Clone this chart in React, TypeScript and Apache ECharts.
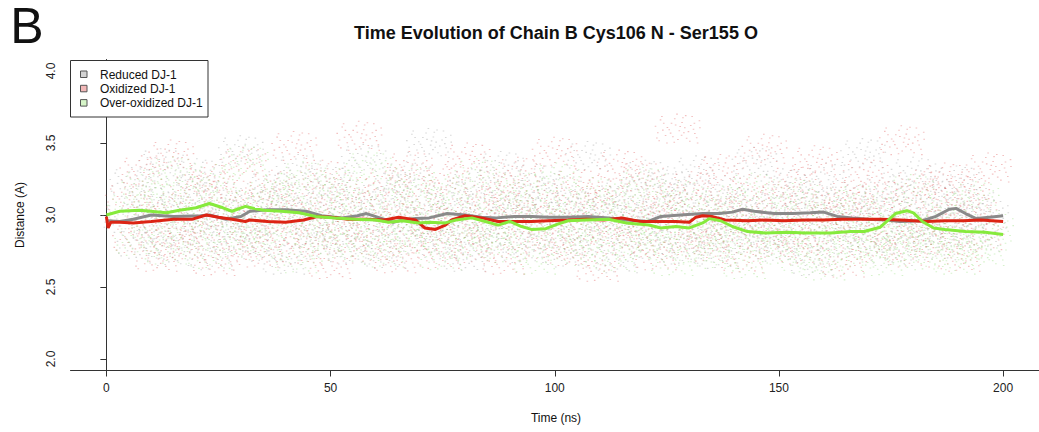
import React, { useEffect, useRef } from "react";
import * as echarts from "echarts";

const seriesNames = ["Reduced DJ-1", "Oxidized DJ-1", "Over-oxidized DJ-1"];
const xTicks = [0, 50, 100, 150, 200];
const yTicks = [2, 2.5, 3, 3.5, 4];

// running-average lines: [time (ns), distance (A)]
const reducedLine = [
  [0, 2.96], [3, 2.955], [6, 2.97], [10, 3.0], [15, 2.99], [21, 2.995], [23, 3.0], [26.7, 2.97], [30, 2.99],
  [32, 3.026], [36, 3.037], [40, 3.037], [44.5, 3.026], [48, 2.995], [52.5, 2.98], [56, 2.995], [58, 3.01],
  [61, 2.98], [64, 2.95], [66, 2.965], [69, 2.975], [72, 2.98], [76, 3.01], [80, 3.0], [83.7, 2.985], [87, 2.98],
  [91, 2.99], [95, 2.99], [98.6, 2.985], [103, 2.985], [107.4, 2.99], [112, 2.98], [116, 2.965], [120.8, 2.955],
  [123.7, 2.99], [128, 3.0], [133, 3.01], [136.7, 3.01], [139.6, 3.02], [141.9, 3.04], [144.5, 3.026], [149, 3.01],
  [153, 3.01], [157, 3.015], [160, 3.02], [163, 2.99], [166.3, 2.98], [170, 2.97], [174, 2.965], [177, 2.955],
  [182, 2.96], [185, 2.99], [188, 3.04], [189.5, 3.046], [191.6, 3.01], [194, 2.975], [197, 2.985], [200, 2.995],
];
const oxidizedLine = [
  [0, 2.99], [0.4, 2.91], [1, 2.95], [3, 2.95], [6, 2.945], [10, 2.955], [15, 2.97], [19, 2.97], [22.3, 3.0],
  [25, 2.985], [28, 2.97], [31, 2.955], [32, 2.965], [36, 2.955], [40, 2.95], [44, 2.965], [47, 2.99], [50, 2.985],
  [54, 2.97], [58, 2.97], [62, 2.965], [65.2, 2.985], [69, 2.965], [71, 2.91], [73.4, 2.9], [75.6, 2.93], [77, 2.965],
  [80, 2.995], [83.7, 2.98], [87.4, 2.955], [91, 2.955], [94.8, 2.955], [98.6, 2.96], [103, 2.965], [107, 2.97],
  [111, 2.965], [115, 2.98], [119, 2.955], [123, 2.955], [127, 2.955], [130, 2.95], [131.5, 2.985], [133, 2.995],
  [135, 2.99], [138, 2.965], [143, 2.96], [147, 2.965], [151, 2.96], [156, 2.965], [160, 2.965], [164, 2.97],
  [168, 2.97], [173, 2.97], [177, 2.965], [183, 2.955], [187, 2.96], [191, 2.96], [195, 2.965], [200, 2.955],
];
const overOxidizedLine = [
  [0, 3.0], [3, 3.026], [7.4, 3.033], [13.4, 3.015], [16.3, 3.033], [20, 3.05], [23, 3.08], [26, 3.05], [28, 3.026],
  [31, 3.06], [33, 3.045], [35, 3.033], [39, 3.026], [43, 3.015], [46.7, 2.99], [51, 2.98], [55.6, 2.97], [60, 2.965],
  [63, 2.95], [66, 2.96], [69.5, 2.945], [72, 2.95], [75.6, 2.945], [78, 2.965], [81.5, 2.98], [84.5, 2.955],
  [87.4, 2.93], [90, 2.955], [92.6, 2.92], [94.8, 2.9], [98, 2.905], [100.5, 2.935], [103, 2.96], [107, 2.965],
  [112, 2.97], [116, 2.945], [121, 2.93], [123.7, 2.91], [127, 2.92], [130, 2.91], [133, 2.945], [134.5, 2.975],
  [137, 2.96], [139.6, 2.92], [143, 2.885], [147, 2.875], [152, 2.88], [156, 2.875], [161.5, 2.875], [166, 2.885],
  [169, 2.885], [172.6, 2.915], [176, 3.01], [178.5, 3.03], [180, 3.015], [182, 2.955], [184.5, 2.91], [187, 2.9],
  [191.6, 2.885], [196, 2.88], [200, 2.865],
];

// raw-frame scatter cloud samples (distance, A), evenly spaced in time
const reducedCloud = [
  2.98, 3.23, 2.8, 3.1, 2.91, 3.36, 2.75, 3.04, 3.17, 2.87, 3.29, 2.95, 2.72, 3.13, 3.01, 2.84, 3.45, 2.93, 3.08, 2.78,
  3.2, 2.97, 2.69, 3.11, 3.32, 2.89, 3.05, 2.81, 3.24, 2.94, 3.15, 2.76, 3.02, 3.39, 2.88, 3.09, 2.73, 3.19, 2.96, 3.27,
  2.85, 3.06, 3.5, 2.92, 2.79, 3.14, 3.0, 2.71, 3.22, 2.9, 3.08, 2.83, 3.34, 2.97, 3.12, 2.77, 3.03, 3.25, 2.86, 2.99,
  3.18, 2.74, 3.07, 2.93, 3.41, 2.82, 3.1, 2.98, 2.7, 3.16, 3.01, 2.89, 3.28, 2.8, 3.05, 3.21, 2.94, 2.76, 3.13, 3.31,
  2.87, 3.0, 2.73, 3.17, 2.95, 3.09, 2.84, 3.37, 2.91, 3.04, 2.78, 3.22, 2.99, 2.86, 3.14, 2.68, 3.06, 3.26, 2.92, 2.81,
  3.11, 2.97, 3.43, 2.83, 3.02, 3.19, 2.75, 3.08, 2.9, 3.3, 2.94, 3.15, 2.79, 3.03, 2.88, 3.24, 2.97, 3.1, 2.85, 3.01,
];
const oxidizedCloud = [
  3.12, 2.84, 3.31, 2.97, 2.71, 3.05, 3.42, 2.88, 2.79, 3.18, 2.93, 3.26, 2.68, 3.02, 3.15, 2.81, 3.37, 2.95, 2.74, 3.09,
  3.21, 2.87, 2.99, 3.48, 2.76, 3.11, 2.9, 3.28, 2.66, 3.03, 2.85, 3.17, 3.55, 2.92, 2.78, 3.07, 3.23, 2.7, 2.98, 3.34,
  2.83, 3.14, 2.96, 2.73, 3.25, 3.01, 2.89, 3.4, 2.77, 3.1, 2.94, 3.19, 2.69, 3.06, 3.3, 2.86, 2.97, 3.13, 2.8, 3.44,
  3.0, 2.75, 3.22, 2.91, 3.08, 2.64, 3.16, 2.88, 3.35, 2.95, 2.82, 3.27, 3.04, 2.72, 3.12, 2.99, 3.6, 2.84, 3.2, 2.93,
  2.78, 3.09, 3.32, 2.87, 3.02, 2.7, 3.18, 2.96, 3.46, 2.81, 3.11, 2.9, 3.24, 2.76, 3.05, 3.38, 2.85, 2.98, 3.15, 2.67,
  3.07, 2.92, 3.29, 2.79, 3.14, 3.01, 2.88, 3.52, 2.74, 3.21, 2.95, 3.1, 2.83, 3.26, 2.97, 2.71, 3.17, 3.03, 2.86, 3.33,
];
const overOxidizedCloud = [
  3.05, 2.82, 3.21, 2.94, 3.12, 2.76, 3.3, 2.99, 2.87, 3.16, 3.02, 2.73, 3.25, 2.91, 3.08, 2.84, 3.38, 2.97, 2.79, 3.14,
  2.9, 3.19, 3.03, 2.7, 3.27, 2.95, 2.86, 3.11, 2.78, 3.22, 2.96, 3.07, 2.81, 3.34, 2.93, 2.74, 3.15, 3.0, 2.88, 3.24,
  2.83, 3.1, 2.97, 2.72, 3.18, 2.91, 3.04, 2.8, 3.29, 2.94, 2.86, 3.13, 2.77, 3.01, 3.2, 2.89, 2.69, 3.08, 2.95, 3.26,
  2.82, 3.05, 2.92, 2.75, 3.16, 2.87, 3.0, 2.71, 3.12, 2.96, 2.79, 3.23, 2.9, 2.84, 3.06, 2.68, 3.14, 2.93, 2.77, 3.02,
  2.88, 2.73, 3.1, 2.85, 2.96, 2.66, 3.19, 2.81, 2.92, 3.04, 2.76, 2.89, 3.15, 2.7, 2.98, 2.83, 2.65, 3.08, 2.87, 2.94,
  2.74, 3.11, 2.8, 2.91, 2.68, 3.02, 2.85, 2.77, 3.18, 2.9, 2.72, 2.96, 2.83, 3.06, 2.69, 2.88, 2.79, 3.13, 2.75, 2.92,
];

const FONT = "'Liberation Sans', Arial, Helvetica, sans-serif";

// speckle texture used as the marker of each sampled frame
const dotPts = [
  [0, 40], [14, 8], [22, 71], [35, 30], [41, 93], [52, 55], [60, 12], [68, 80], [77, 38], [86, 64], [96, 22],
  [8, 88], [30, 52], [47, 0], [92, 96], [64, 45], [18, 30], [80, 8], [5, 62], [57, 70], [72, 58], [38, 75],
  [11, 19], [26, 44], [44, 36], [58, 28], [83, 50], [90, 78], [33, 63], [49, 84], [66, 5], [75, 90], [3, 79],
  [16, 53], [54, 41], [97, 45], [25, 96], [62, 62], [42, 15], [85, 30],
];
const speckle = "path://" + dotPts.map(([x, y]) => `M${x} ${y}h3.5v3.5h-3.5z`).join("");

function cloudData(vals: number[], offset: number) {
  const n = vals.length;
  return vals.map((v, i) => [4 + (i * 192) / (n - 1) + offset, v]);
}

export default function App() {
  const ref = useRef<HTMLDivElement>(null);
  useEffect(() => {
    const chart = echarts.init(ref.current!, null, { renderer: "svg" });
    const cloud = (name: string, vals: number[], off: number, color: string) => ({
      name,
      type: "scatter",
      data: cloudData(vals, off),
      symbol: speckle,
      symbolSize: [46, 30],
      itemStyle: { color },
      silent: true,
      z: 1,
    });
    const line = (name: string, data: number[][], color: string, z: number) => ({
      name,
      type: "line",
      data,
      symbol: "none",
      lineStyle: { color, width: 3 },
      z,
      silent: true,
    });
    const legendColors = ["#d3d3d3", "#f2b8b8", "#d6f5c8"];
    const option: any = {
      animation: false,
      backgroundColor: "#ffffff",
      grid: { left: 70.5, top: 59.5, width: 972, height: 311 },
      xAxis: {
        type: "value",
        min: -8,
        max: 208,
        splitLine: { show: false },
        axisLine: { lineStyle: { color: "#333", width: 1 } },
        axisTick: { customValues: xTicks, length: 6, lineStyle: { color: "#333" } },
        axisLabel: { customValues: xTicks, color: "#222", fontSize: 12, fontFamily: FONT, margin: 11 },
      },
      yAxis: {
        type: "value",
        min: 1.92,
        max: 4.08,
        splitLine: { show: false },
        axisLine: { show: true, lineStyle: { color: "#333", width: 1 } },
        axisTick: { show: true, customValues: yTicks, length: 6, lineStyle: { color: "#333" } },
        axisLabel: {
          customValues: yTicks,
          rotate: 90,
          color: "#222",
          fontSize: 12,
          fontFamily: FONT,
          margin: 14,
          formatter: (v: number) => v.toFixed(1),
        },
      },
      series: [
        cloud(seriesNames[0], reducedCloud, 0.2, "rgba(150,150,150,0.45)"),
        cloud(seriesNames[1], oxidizedCloud, 0.8, "rgba(225,100,100,0.5)"),
        cloud(seriesNames[2], overOxidizedCloud, 1.3, "rgba(140,220,110,0.45)"),
        line(seriesNames[0], reducedLine, "#8a8a8a", 3),
        line(seriesNames[1], oxidizedLine, "#dc2414", 4),
        line(seriesNames[2], overOxidizedLine, "#86ea3c", 5),
      ],
      graphic: [
        {
          type: "text",
          z: 100,
          style: { text: "B", x: 27, y: 26, font: `50px ${FONT}`, fill: "#111", textAlign: "center", textVerticalAlign: "middle" },
        },
        {
          type: "text",
          z: 100,
          style: {
            text: "Time Evolution of Chain B Cys106 N - Ser155 O",
            x: 556,
            y: 33,
            font: `bold 18px ${FONT}`,
            fill: "#111",
            textAlign: "center",
            textVerticalAlign: "middle",
          },
        },
        {
          type: "text",
          z: 100,
          style: {
            text: "Time (ns)",
            x: 556,
            y: 418,
            font: `12px ${FONT}`,
            fill: "#111",
            textAlign: "center",
            textVerticalAlign: "middle",
          },
        },
        {
          type: "text",
          z: 100,
          x: 20,
          y: 215,
          rotation: Math.PI / 2,
          style: {
            text: "Distance (A)",
            x: 0,
            y: 0,
            font: `12px ${FONT}`,
            fill: "#111",
            textAlign: "center",
            textVerticalAlign: "middle",
          },
        },
        {
          type: "rect",
          z: 100,
          shape: { x: 70.5, y: 60.5, width: 137.5, height: 56.5 },
          style: { fill: "#fff", stroke: "#333", lineWidth: 1 },
        },
        ...seriesNames.flatMap((name, i) => [
          {
            type: "rect",
            z: 101,
            shape: { x: 80.5, y: 71 + i * 14.3, width: 6.5, height: 6.5 },
            style: { fill: legendColors[i], stroke: "#555", lineWidth: 1 },
          },
          {
            type: "text",
            z: 101,
            style: {
              text: name,
              x: 100,
              y: 74.5 + i * 14.3,
              font: `12px ${FONT}`,
              fill: "#111",
              textVerticalAlign: "middle",
            },
          },
        ]),
      ],
    };
    chart.setOption(option);
    return () => chart.dispose();
  }, []);
  return (
    <div
      ref={ref}
      style={{ position: "absolute", left: 0, top: 0, width: 1039, height: 432, background: "#fff" }}
    />
  );
}
